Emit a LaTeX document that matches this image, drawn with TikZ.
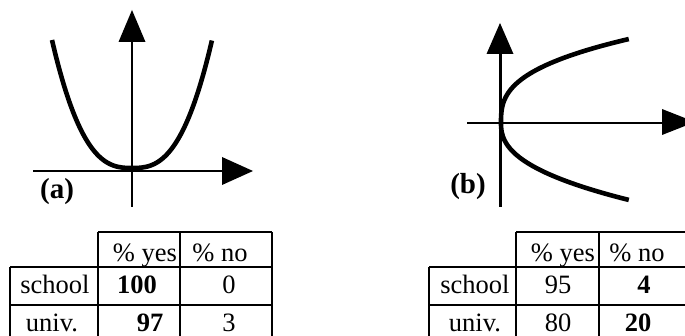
\documentclass[tikz,border=0pt]{standalone}
\usepackage{fontspec}
\setmainfont{Liberation Serif}
\begin{document}
\begin{tikzpicture}[x=1pt,y=-1pt,
  axis/.style={line width=2.3pt},
  head/.style={fill=black},
  curve/.style={line width=4.6pt},
  grid/.style={line width=2.6pt},
  lbl/.style={font=\fontsize{29}{29}\selectfont\bfseries, inner sep=0pt, anchor=base},
  txt/.style={font=\fontsize{26.5}{26.5}\selectfont, inner sep=0pt, anchor=base},
  btxt/.style={font=\fontsize{26.5}{26.5}\selectfont\bfseries, inner sep=0pt, anchor=base}]
\useasboundingbox (0,0) rectangle (685,336);
\clip (0,0) rectangle (685,336);

% ---- plot (a)
\coordinate (ax0) at (33,171);
\coordinate (ax1) at (222,171);
\coordinate (ay0) at (132,207);
\coordinate (ay1) at (132,42);
\draw[axis] (ax0) -- (ax1);
\draw[axis] (ay0) -- (ay1);
\fill[head] (222,157) -- (253,171) -- (222,185) -- cycle;
\fill[head] (118.5,42) -- (132,10) -- (145.5,42) -- cycle;
\draw[curve, domain=-1:1, samples=100, smooth] plot ({132+80*\x}, {168-128*abs(\x)^2.7});
\node[lbl] (la) at (57,199) {(a)};

% ---- plot (b)
\coordinate (bx0) at (467,123);
\coordinate (bx1) at (662,123);
\coordinate (by0) at (500.5,207);
\coordinate (by1) at (500.5,54);
\draw[axis] (bx0) -- (bx1);
\draw[axis] (by0) -- (by1);
\fill[head] (662,109) -- (695,122) -- (662,135) -- cycle;
\fill[head] (486.5,54) -- (500,23) -- (513.5,54) -- cycle;
\draw[curve, domain=0:1, samples=60, smooth] plot ({501+128*\x^2.8}, {123-84*\x});
\draw[curve, domain=0:1, samples=60, smooth] plot ({501+128*\x^2.4}, {123+77*\x});
\node[lbl] (lb) at (468,194) {(b)};

% ---- table (a)
\draw[grid] (98,232) -- (272,232);
\draw[grid] (10,267) -- (272,267);
\draw[grid] (10,305) -- (272,305);
\draw[grid] (10,267) -- (10,340);
\draw[grid] (98,232) -- (98,340);
\draw[grid] (180,232) -- (180,340);
\draw[grid] (272,232) -- (272,340);
\node[txt] (a01) at (145,262) {\% yes};
\node[txt] (a02) at (220,262) {\% no};
\node[txt] (a10) at (55,294) {school};
\node[btxt] (a11) at (137,294) {100};
\node[txt] (a12) at (229,294) {0};
\node[txt] (a20) at (52,331) {univ.};
\node[btxt] (a21) at (150,331) {97};
\node[txt] (a22) at (229,331) {3};

% ---- table (b)
\draw[grid] (516,232) -- (690,232);
\draw[grid] (429,267) -- (690,267);
\draw[grid] (429,305) -- (690,305);
\draw[grid] (429,267) -- (429,340);
\draw[grid] (516,232) -- (516,340);
\draw[grid] (599,232) -- (599,340);
\node[txt] (b01) at (563,262) {\% yes};
\node[txt] (b02) at (637,262) {\% no};
\node[txt] (b10) at (475,294) {school};
\node[txt] (b11) at (558,294) {95};
\node[btxt] (b12) at (644,294) {4};
\node[txt] (b20) at (475,331) {univ.};
\node[txt] (b21) at (558,331) {80};
\node[btxt] (b22) at (638,331) {20};
\end{tikzpicture}
\end{document}
